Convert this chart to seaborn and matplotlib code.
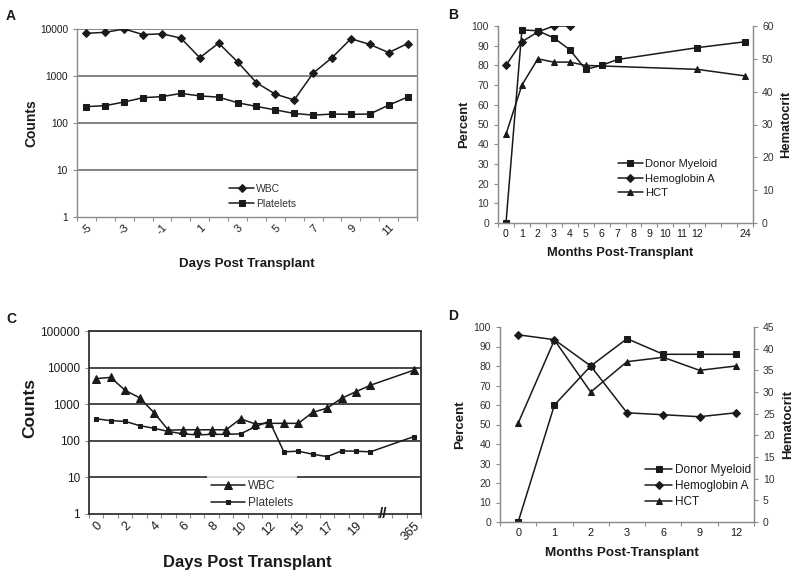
import matplotlib
matplotlib.use('Agg')
import matplotlib.pyplot as plt
import numpy as np
import pandas as pd
import seaborn as sns

sns.set_theme(style='white')
plt.rcParams['font.family'] = ['Liberation Sans', 'DejaVu Sans']

# ---- panel A: days -5..12 ----
days_a = list(range(-5, 13))
wbc_a = [8100, 8500, 10000, 7600, 7900, 6400, 2450, 5000, 2000, 720, 410, 310,
         1150, 2450, 6200, 4700, 3150, 4900]
plt_a = [223, 234, 280, 346, 364, 426, 377, 355, 270, 225, 190, 160,
         147, 155, 153, 155, 240, 355]
ticks_a = ['-5', '-3', '-1', '1', '3', '5', '7', '9', '11']

# ---- panel B: months (category axis with gap before 24) ----
cats_b = ['0', '1', '2', '3', '4', '5', '6', '7', '8', '9', '10', '11', '12', '', '', '24']
myeloid_b_m = ['0', '1', '2', '3', '4', '5', '6', '7', '12', '24']
myeloid_b = [0, 98, 97.6, 94, 88, 78, 80, 83, 89, 92]
hgb_b_m = ['0', '1', '2', '3', '4']
hgb_b = [80, 92, 97, 100, 100]
hct_b_m = ['0', '1', '2', '3', '4', '5', '12', '24']
hct_b = [27, 42, 50, 49, 49, 48, 46.8, 44.8]

# ---- panel C: days 0..20 plus day 365 ----
cats_c = ['0', '1', '2', '3', '4', '5', '6', '7', '8', '9', '10', '11', '12',
          '14', '15', '16', '17', '18', '19', '20', '', '', '365']
days_c = [c for c in cats_c if c != '']
wbc_c = [5000, 5400, 2400, 1500, 590, 195, 200, 200, 200, 200, 400, 290,
         300, 300, 300, 600, 780, 1450, 2200, 3300, 8500]
plt_c = [400, 355, 340, 260, 220, 180, 155, 145, 150, 150, 155, 240,
         345, 50, 52, 43, 37, 53, 52, 50, 130]
ticks_c = ['0', '2', '4', '6', '8', '10', '12', '15', '17', '19', '365']

# ---- panel D: months ----
cats_d = ['0', '1', '2', '3', '6', '9', '12']
myeloid_d = [0, 60, 80, 94, 86, 86, 86]
hgb_d = [96, 93.5, 80, 56, 55, 54, 56]
hct_d = [22.8, 42, 30, 37, 38, 35, 36]

W, H = 800, 578
fig = plt.figure(figsize=(W / 100, H / 100), dpi=100)


def box(l, t, r, b):
    return [l / W, 1 - b / H, (r - l) / W, (b - t) / H]


ink = '#1a1a1a'
grey = '#8c8c8c'


def draw(ax, x, y, marker, ms, label):
    sns.lineplot(x=x, y=y, ax=ax, color=ink, lw=1.1, marker=marker, markersize=ms,
                 markeredgecolor=ink, markerfacecolor=ink, label=label, sort=False)


def cat_axis(ax, n, tick_pos, tick_labels, rot, fs):
    ax.set_xlim(-0.5, n - 0.5)
    ax.set_xticks(tick_pos)
    ax.set_xticklabels(tick_labels, rotation=rot, fontsize=fs,
                       ha='right' if rot else 'center',
                       rotation_mode='anchor' if rot else 'default')
    ax.set_xticks(np.arange(-0.5, n, 1), minor=True)
    ax.tick_params(axis='x', which='major', length=0, pad=4, colors=ink)
    ax.tick_params(axis='x', which='minor', length=3, width=0.8, color=grey, bottom=True)


def log_axis(ax, top, color, lw, fs):
    ax.set_yscale('log')
    ax.set_ylim(1, top)
    vals = [10 ** k for k in range(int(np.log10(top)) + 1)]
    ax.set_yticks(vals)
    ax.set_yticklabels([str(v) for v in vals], fontsize=fs)
    ax.yaxis.set_minor_locator(matplotlib.ticker.NullLocator())
    for v in vals[1:]:
        ax.axhline(v, color=color, lw=lw, zorder=0)
    ax.tick_params(axis='y', length=3, width=0.8, color=grey, left=True, colors=ink)


# ================= A =================
ax = fig.add_axes(box(77, 29, 417, 217))
xa = np.arange(len(days_a))
draw(ax, xa, wbc_a, 'D', 4, 'WBC')
draw(ax, xa, plt_a, 's', 5, 'Platelets')
log_axis(ax, 10000, '#7a7a7a', 1.3, 7.3)
cat_axis(ax, len(days_a), [days_a.index(int(t)) for t in ticks_a], ticks_a, 45, 8)
for s in ['left', 'bottom', 'right']:
    ax.spines[s].set_color(grey)
    ax.spines[s].set_linewidth(1.0)
ax.spines['top'].set_visible(False)
ax.set_xlabel('Days Post Transplant', fontsize=9.6, fontweight='bold', color=ink)
ax.xaxis.set_label_coords(0.5, -0.22)
ax.set_ylabel('Counts', fontsize=10, fontweight='bold', color=ink)
ax.yaxis.set_label_coords(-0.115, 0.5)
ax.legend(loc='center left', bbox_to_anchor=(0.42, 0.11), frameon=False, fontsize=7.5,
          handlelength=2.4, labelspacing=0.5, handletextpad=0.2, labelcolor='#333333')

# ================= B =================
ax = fig.add_axes(box(498, 26, 753, 223))
axr = ax.twinx()
draw(ax, [cats_b.index(m) for m in myeloid_b_m], myeloid_b, 's', 5, 'Donor Myeloid')
draw(ax, [cats_b.index(m) for m in hgb_b_m], hgb_b, 'D', 4, 'Hemoglobin A')
draw(axr, [cats_b.index(m) for m in hct_b_m], hct_b, '^', 5, 'HCT')
ax.set_ylim(0, 100)
axr.set_ylim(0, 60)
ax.set_yticks(range(0, 101, 10))
axr.set_yticks(range(0, 61, 10))
cat_axis(ax, len(cats_b), list(range(len(cats_b))), cats_b, 0, 7.6)
for a in (ax, axr):
    a.set_facecolor('none')
    for s in a.spines.values():
        s.set_color(grey)
        s.set_linewidth(0.9)
    a.spines['top'].set_visible(False)
    a.tick_params(axis='y', labelsize=7.5, length=3, width=0.8, color=grey, colors='#333333')
ax.tick_params(axis='y', left=True)
axr.tick_params(axis='y', right=True)
ax.set_xlabel('Months Post-Transplant', fontsize=9.3, fontweight='bold', color=ink)
ax.xaxis.set_label_coords(0.478, -0.12)
ax.set_ylabel('Percent', fontsize=9.3, fontweight='bold', color=ink)
ax.yaxis.set_label_coords(-0.11, 0.5)
axr.set_ylabel('Hematocrit', fontsize=9.3, fontweight='bold', color=ink)
axr.yaxis.set_label_coords(1.105, 0.5)
h1, l1 = ax.get_legend_handles_labels()
h2, l2 = axr.get_legend_handles_labels()
axr.get_legend().remove()
ax.legend(h1 + h2, l1 + l2, loc='center left', bbox_to_anchor=(0.43, 0.225), frameon=False,
          fontsize=8, handlelength=2.3, labelspacing=0.4, handletextpad=0.2, labelcolor=ink)

# ================= C =================
ax = fig.add_axes(box(89, 331, 421, 514))
xc = [cats_c.index(d) for d in days_c]
draw(ax, xc, wbc_c, '^', 6, 'WBC')
draw(ax, xc, plt_c, 's', 3.5, 'Platelets')
log_axis(ax, 100000, '#3a3a3a', 1.3, 8.5)
cat_axis(ax, len(cats_c), [cats_c.index(t) for t in ticks_c], ticks_c, 45, 9)
for s in ax.spines.values():
    s.set_color('#333333')
    s.set_linewidth(1.3)
ax.set_xlabel('Days Post Transplant', fontsize=12, fontweight='bold', color=ink)
ax.xaxis.set_label_coords(0.477, -0.225)
ax.set_ylabel('Counts', fontsize=12.5, fontweight='bold', color=ink)
ax.yaxis.set_label_coords(-0.155, 0.58)
ax.text(19.9, 1, '//', fontsize=11, ha='center', va='center', color=ink, fontweight='bold')
leg = ax.legend(loc='lower left', bbox_to_anchor=(0.355, 0.005), frameon=True, fontsize=8.5,
                handlelength=2.9, labelspacing=0.4, handletextpad=0.2, labelcolor='#333333',
                borderpad=0.35, borderaxespad=0.0, fancybox=False)
leg.get_frame().set_facecolor('white')
leg.get_frame().set_edgecolor('none')

# ================= D =================
ax = fig.add_axes(box(500, 327, 754, 522))
axr = ax.twinx()
xd = np.arange(len(cats_d))
draw(ax, xd, myeloid_d, 's', 5, 'Donor Myeloid')
draw(ax, xd, hgb_d, 'D', 4, 'Hemoglobin A')
draw(axr, xd, hct_d, '^', 5, 'HCT')
ax.set_ylim(0, 100)
axr.set_ylim(0, 45)
ax.set_yticks(range(0, 101, 10))
axr.set_yticks(range(0, 46, 5))
cat_axis(ax, len(cats_d), list(xd), cats_d, 0, 7.8)
for a in (ax, axr):
    a.set_facecolor('none')
    for s in a.spines.values():
        s.set_color(grey)
        s.set_linewidth(0.9)
    a.spines['top'].set_visible(False)
    a.tick_params(axis='y', labelsize=7.5, length=3, width=0.8, color=grey, colors='#333333')
ax.tick_params(axis='y', left=True)
axr.tick_params(axis='y', right=True)
ax.set_xlabel('Months Post-Transplant', fontsize=9.7, fontweight='bold', color=ink)
ax.xaxis.set_label_coords(0.479, -0.13)
ax.set_ylabel('Percent', fontsize=9.5, fontweight='bold', color=ink)
ax.yaxis.set_label_coords(-0.135, 0.5)
axr.set_ylabel('Hematocrit', fontsize=9.5, fontweight='bold', color=ink)
axr.yaxis.set_label_coords(1.11, 0.5)
h1, l1 = ax.get_legend_handles_labels()
h2, l2 = axr.get_legend_handles_labels()
axr.get_legend().remove()
ax.legend(h1 + h2, l1 + l2, loc='center left', bbox_to_anchor=(0.53, 0.185), frameon=False,
          fontsize=8.5, handlelength=2.3, labelspacing=0.35, handletextpad=0.2, labelcolor=ink)

# panel letters
for letter, (px, py) in zip('ABCD', [(11, 16), (453, 15), (11, 319), (453, 316)]):
    fig.text(px / W, 1 - py / H, letter, fontsize=10, fontweight='bold', color=ink,
             ha='center', va='center')

fig.savefig('out.png', dpi=100)
